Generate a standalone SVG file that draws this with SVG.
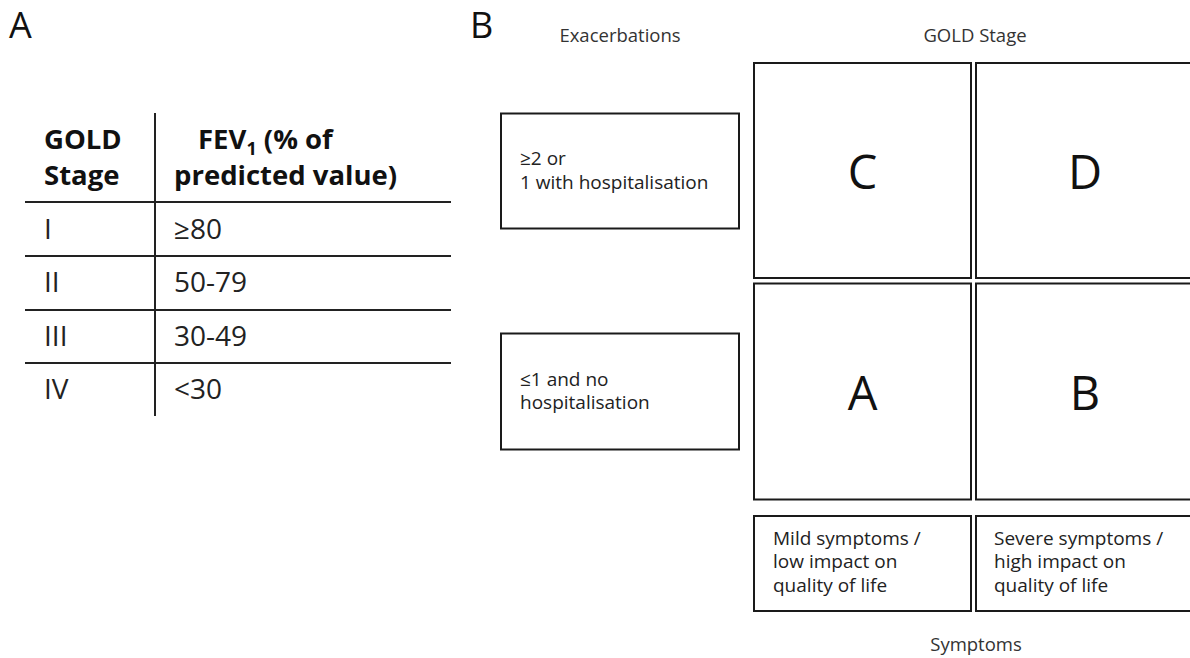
<svg xmlns="http://www.w3.org/2000/svg" width="1190" height="658" viewBox="0 0 1190 658">
<style>
text{font-family:"Open Sans","Noto Sans","DejaVu Sans",sans-serif;}
.panel{font-size:36px;fill:#111;}
.th{font-size:27.5px;font-weight:bold;fill:#111;}
.td{font-size:28px;fill:#222;}
.tl{stroke:#222;stroke-width:2;}
.box{fill:#fff;stroke:#1a1a1a;stroke-width:2;}
.lbl{font-size:18.5px;fill:#333;}
.bt{font-size:19px;fill:#222;}
.big{font-size:47px;fill:#111;text-anchor:middle;}
</style>
<rect width="1190" height="658" fill="#fff"/>
<g id="panel-A">
<text class="panel" x="9" y="38">A</text>
<g id="table">
<line class="tl" x1="155" y1="113" x2="155" y2="416"/>
<line class="tl" x1="25" y1="202" x2="451" y2="202"/>
<line class="tl" x1="25" y1="256" x2="451" y2="256"/>
<line class="tl" x1="25" y1="310" x2="451" y2="310"/>
<line class="tl" x1="25" y1="363" x2="451" y2="363"/>
<text class="th" x="44" y="149">GOLD</text>
<text class="th" x="44" y="185">Stage</text>
<text class="th" x="198" y="149">FEV<tspan font-size="18" dy="6">1</tspan><tspan dy="-6"> (% of</tspan></text>
<text class="th" x="174" y="185">predicted value)</text>
<text class="td" x="44" y="239">I</text>
<text class="td" x="174" y="239">≥80</text>
<text class="td" x="44" y="292">II</text>
<text class="td" x="174" y="292">50-79</text>
<text class="td" x="44" y="346">III</text>
<text class="td" x="174" y="346">30-49</text>
<text class="td" x="44" y="399">IV</text>
<text class="td" x="174" y="399">&lt;30</text>
</g>
</g>
<g id="panel-B">
<text class="panel" x="470" y="38">B</text>
<text class="lbl" x="620" y="42" text-anchor="middle">Exacerbations</text>
<text class="lbl" x="975" y="42" text-anchor="middle">GOLD Stage</text>
<text class="lbl" x="976" y="651" text-anchor="middle">Symptoms</text>
<g id="exac-high">
<rect class="box" x="501" y="113.5" width="238" height="115"/>
<text class="bt" x="520" y="165">≥2 or</text>
<text class="bt" x="520" y="189">1 with hospitalisation</text>
</g>
<g id="exac-low">
<rect class="box" x="501" y="333.5" width="238" height="116"/>
<text class="bt" x="520" y="386">≤1 and no</text>
<text class="bt" x="520" y="409">hospitalisation</text>
</g>
<g id="cell-C">
<rect class="box" x="754" y="63" width="217" height="215"/>
<text class="big" x="862.5" y="189">C</text>
</g>
<g id="cell-D">
<rect class="box" x="976" y="63" width="220" height="215"/>
<text class="big" x="1085" y="189">D</text>
</g>
<g id="cell-A">
<rect class="box" x="754" y="283.5" width="217" height="216"/>
<text class="big" x="862.5" y="410">A</text>
</g>
<g id="cell-B">
<rect class="box" x="976" y="283.5" width="220" height="216"/>
<text class="big" x="1085" y="410">B</text>
</g>
<g id="sym-mild">
<rect class="box" x="754" y="516" width="217" height="95"/>
<text class="bt" x="773" y="545">Mild symptoms /</text>
<text class="bt" x="773" y="568">low impact on</text>
<text class="bt" x="773" y="592">quality of life</text>
</g>
<g id="sym-severe">
<rect class="box" x="976" y="516" width="220" height="95"/>
<text class="bt" x="994" y="545">Severe symptoms /</text>
<text class="bt" x="994" y="568">high impact on</text>
<text class="bt" x="994" y="592">quality of life</text>
</g>
<g id="connectors"/>
</g>
</svg>
